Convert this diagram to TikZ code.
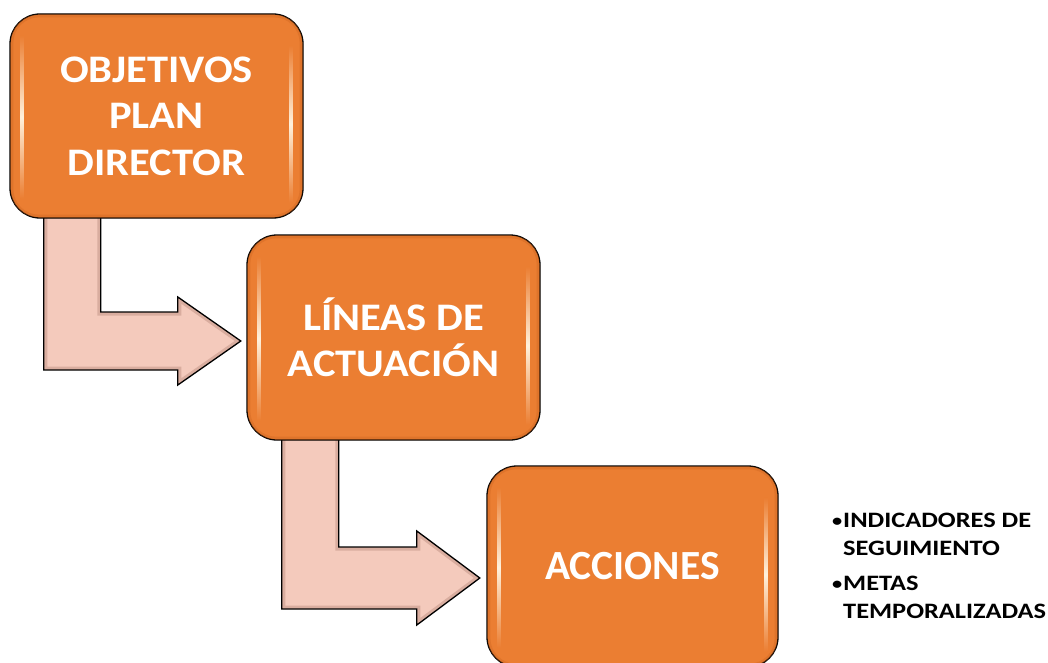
\documentclass[tikz,border=0pt]{standalone}
\usepackage{fontspec}
\setmainfont{Carlito}
\newfontfamily\boxfam{Carlito}[FakeStretch=1.09]
\newfontfamily\notefam{Carlito}[FakeStretch=1.2]
\usetikzlibrary{calc}
\definecolor{boxorange}{HTML}{EB7E32}
\definecolor{boxedge}{HTML}{C9621E}
\definecolor{arrowpink}{HTML}{F4CABC}
\definecolor{arrowdark}{HTML}{B98A7C}
\definecolor{glint}{HTML}{FFF1DC}
\tikzset{
  stagebox/.style={draw=black, line width=1.3pt, fill=boxorange, rounded corners=30pt,
    inner sep=0pt, text=white, align=center},
  boxfont/.style={font={\boxfam\fontsize{39}{46.5}\selectfont\bfseries}},
  bigfont/.style={font={\fontsize{41.5}{48}\selectfont\bfseries}},
  arrowbody/.style={fill=arrowpink},
  arrowbevel/.style={draw=arrowdark, line width=7pt, opacity=0.45},
  arrowline/.style={draw=black, line width=1.3pt, line join=miter},
  notefont/.style={font={\notefam\fontsize{22}{28}\selectfont\bfseries}, text=black, align=left, inner sep=0pt}
}
% bent arrow: #1 stem-start coordinate, #2 tip coordinate, #3 stem width, #4 bar half height,
% #5 head half height, #6 head length
\newcommand\bentpath[6]{let \p1=(#1), \p2=(#2) in
  (\x1,\y1) -- (\x1+#3pt,\y1) -- (\x1+#3pt,\y2+#4pt) -- (\x2-#6pt,\y2+#4pt)
  -- (\x2-#6pt,\y2+#5pt) -- (\x2,\y2) -- (\x2-#6pt,\y2-#5pt) -- (\x2-#6pt,\y2-#4pt)
  -- (\x1,\y2-#4pt) -- cycle}
\newcommand\bentarrow[6]{%
  \fill[arrowbody] \bentpath{#1}{#2}{#3}{#4}{#5}{#6};
  \begin{scope}
    \clip \bentpath{#1}{#2}{#3}{#4}{#5}{#6};
    \draw[arrowbevel] \bentpath{#1}{#2}{#3}{#4}{#5}{#6};
  \end{scope}
  \draw[arrowline] \bentpath{#1}{#2}{#3}{#4}{#5}{#6};
}
\newcommand\boxglints[1]{%
  \draw[boxedge, line width=3pt, opacity=0.35, rounded corners=27pt]
    ($(#1.north west)+(2.5,2.5)$) rectangle ($(#1.south east)+(-2.5,-2.5)$);
  \shade[top color=boxorange, bottom color=boxorange, middle color=glint]
    ($(#1.north west)+(11,22)$) rectangle ($(#1.south west)+(14.5,-20)$);
  \shade[top color=boxorange, bottom color=boxorange, middle color=glint]
    ($(#1.north east)+(-14.5,32)$) rectangle ($(#1.south east)+(-11,-16)$);
}
\begin{document}
\begin{tikzpicture}[x=1pt, y=-1pt]
\useasboundingbox (0,0) rectangle (1048,663);
\path (156.5,116) coordinate (c1) (393.5,337.5) coordinate (c2) (632.5,566.5) coordinate (c3);
% placement nodes giving the anchors for the arrows (drawn before the boxes)
\node[minimum width=293pt, minimum height=204pt, inner sep=0pt] (p1) at (c1) {};
\node[minimum width=293pt, minimum height=205pt, inner sep=0pt] (p2) at (c2) {};
\node[minimum width=291pt, minimum height=201pt, inner sep=0pt] (p3) at (c3) {};
\coordinate (s1) at ($(p1.south west)+(34,-10)$);
\coordinate (t1) at ($(p2.west)+(-6,3.5)$);
\coordinate (s2) at ($(p2.south west)+(35,-10)$);
\coordinate (t2) at ($(p3.west)+(-7,11.5)$);
\bentarrow{s1}{t1}{57}{29}{44}{63}
\bentarrow{s2}{t2}{57}{31}{47}{63}
% boxes
\node[stagebox, minimum width=293pt, minimum height=204pt] (b1) at (c1) {};
\boxglints{b1}
\node[stagebox, minimum width=293pt, minimum height=205pt] (b2) at (c2) {};
\boxglints{b2}
\node[stagebox, minimum width=291pt, minimum height=201pt] (b3) at (c3) {};
\boxglints{b3}
% box texts
\node[boxfont, text=white, align=center] (l1) at (b1) {OBJETIVOS\\PLAN\\DIRECTOR};
\node[boxfont, text=white, align=center] (l2) at (b2) {LÍNEAS DE\\ACTUACIÓN};
\node[bigfont, text=white] (l3) at (b3) {ACCIONES};
% notes
\node[notefont, anchor=north west] (notes) at (832,513)
  {\makebox[11pt][l]{\raisebox{1pt}{\fontsize{17}{17}\selectfont •}}INDICADORES DE\\
   \hspace*{11pt}SEGUIMIENTO\\[7pt]
   \makebox[11pt][l]{\raisebox{1pt}{\fontsize{17}{17}\selectfont •}}METAS\\
   \hspace*{11pt}TEMPORALIZADAS};
\end{tikzpicture}
\end{document}
